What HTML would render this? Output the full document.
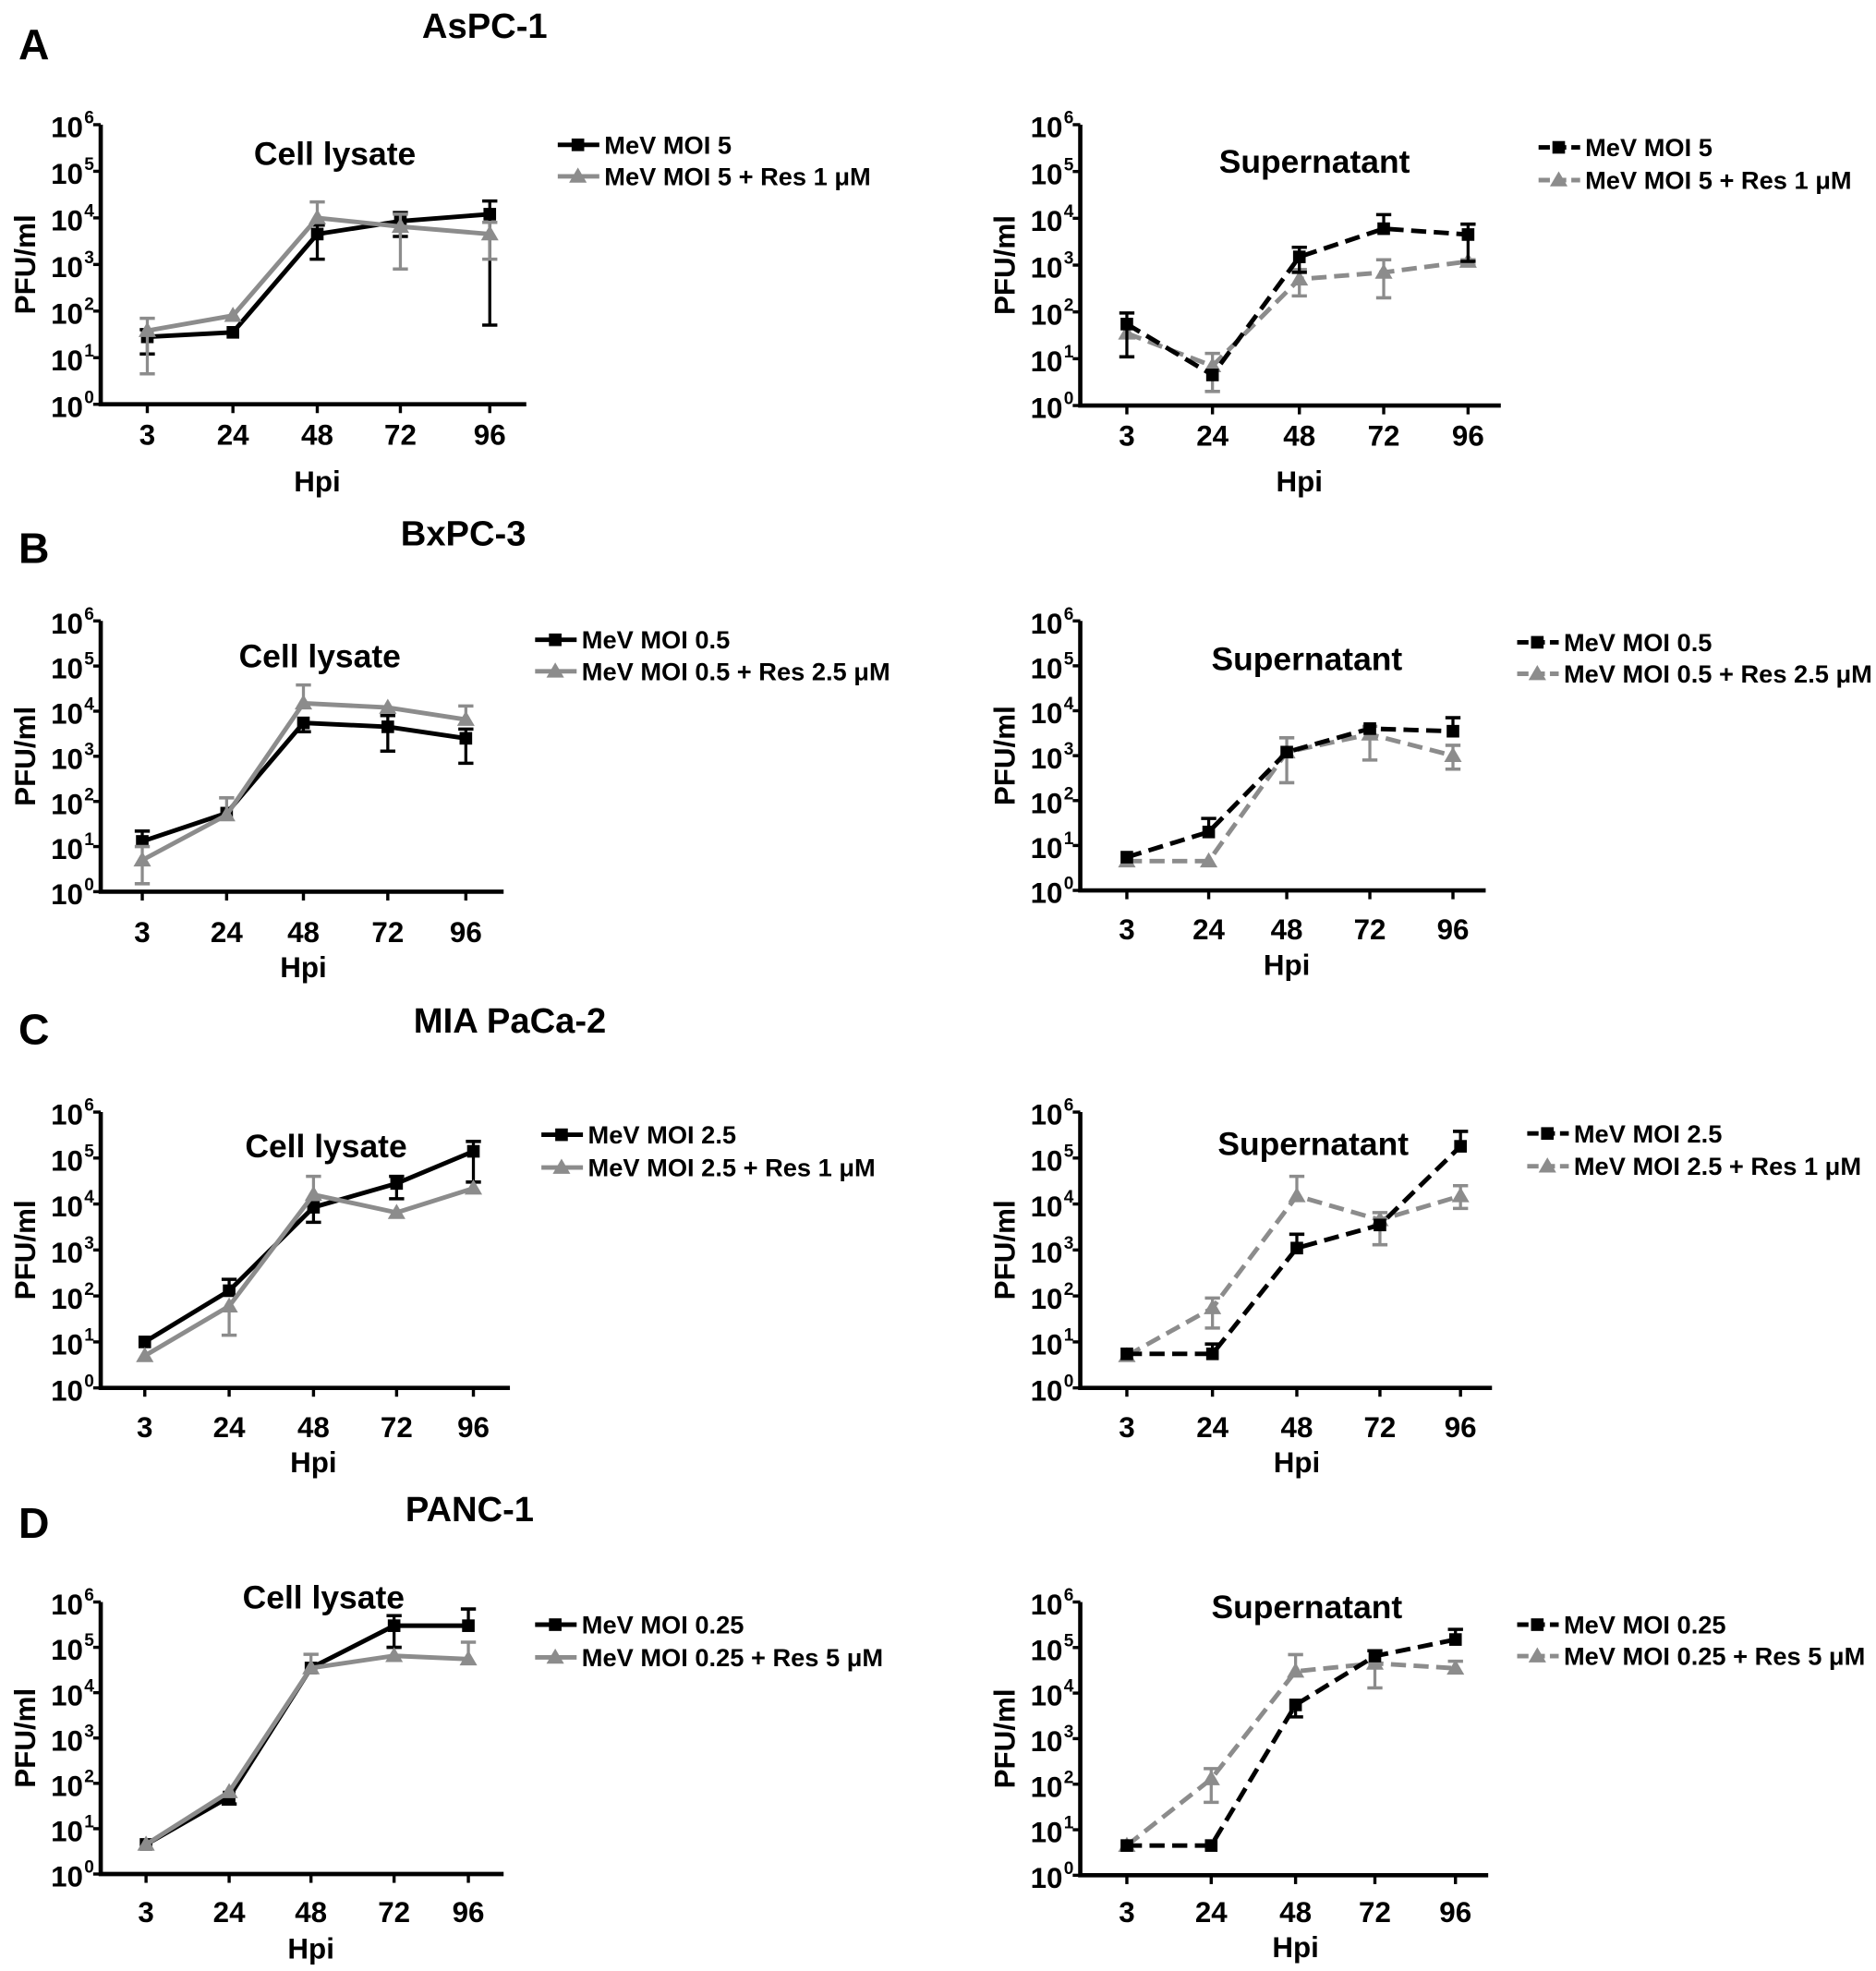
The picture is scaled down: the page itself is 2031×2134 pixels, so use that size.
<!DOCTYPE html>
<html><head><meta charset="utf-8"><style>
html,body{margin:0;padding:0;background:#fff;}
svg{display:block;}
text{font-family:"Liberation Sans",sans-serif;font-weight:bold;fill:#000;}
</style></head><body>
<svg id="fig" width="2031" height="2134" viewBox="0 0 1490 1565" preserveAspectRatio="none" xmlns="http://www.w3.org/2000/svg"></svg>
<script>
const hours = ["3","24","48","72","96"];
const yTickExp = [0,1,2,3,4,5,6];
// A left (AsPC-1 lysate)
const aLysBlack = [28,35,4500,8500,12000];
const aLysBlackLo = [12,35,1300,4000,50];
const aLysBlackHi = [40,35,7000,13000,23000];
const aLysGray = [38,80,10000,6500,4500];
const aLysGrayLo = [4.5,80,10000,800,1300];
const aLysGrayHi = [70,80,22000,12000,8000];
// A right
const aSupBlack = [55,4.5,1500,6000,4500];
const aSupBlackLo = [11,4.5,700,6000,1200];
const aSupBlackHi = [95,4.5,2400,12000,7500];
const aSupGray = [35,7,500,700,1200];
const aSupGrayLo = [35,2,220,200,1000];
const aSupGrayHi = [35,13,800,1300,1300];
// B left
const bLysBlack = [13,55,5500,4500,2500];
const bLysBlackLo = [13,55,3500,1300,700];
const bLysBlackHi = [22,55,5500,8000,4000];
const bLysGray = [5,50,15000,12000,6500];
const bLysGrayLo = [1.5,50,15000,12000,6500];
const bLysGrayHi = [10,120,38000,12000,13000];
// B right
const bSupBlack = [5.5,20,1200,4000,3500];
const bSupBlackLo = [5.5,20,1200,4000,3500];
const bSupBlackHi = [5.5,40,1200,4000,7000];
const bSupGray = [4.5,4.5,1200,3000,1000];
const bSupGrayLo = [4.5,4.5,250,800,500];
const bSupGrayHi = [4.5,4.5,2500,4500,1700];
// C left
const cLysBlack = [10,130,8500,28000,140000];
const cLysBlackLo = [10,130,4000,13000,30000];
const cLysBlackHi = [10,230,8500,40000,230000];
const cLysGray = [5,60,16000,6500,22000];
const cLysGrayLo = [5,14,16000,6500,22000];
const cLysGrayHi = [5,60,40000,6500,22000];
// C right
const cSupBlack = [5.5,5.5,1100,3500,180000];
const cSupBlackLo = [5.5,5.5,1100,3500,180000];
const cSupBlackHi = [5.5,9,2200,3500,380000];
const cSupGray = [5,55,15000,4500,15000];
const cSupGrayLo = [5,20,15000,1300,8000];
const cSupGrayHi = [5,90,40000,6500,25000];
// D left
const dLysBlack = [4.5,50,35000,300000,300000];
const dLysBlackLo = [4.5,35,35000,100000,300000];
const dLysBlackHi = [4.5,50,35000,500000,700000];
const dLysGray = [4.5,65,35000,65000,55000];
const dLysGrayLo = [4.5,65,35000,65000,55000];
const dLysGrayHi = [4.5,65,70000,65000,130000];
// D right
const dSupBlack = [4.5,4.5,5500,65000,150000];
const dSupBlackLo = [4.5,4.5,3000,65000,150000];
const dSupBlackHi = [4.5,4.5,5500,85000,250000];
const dSupGray = [4.5,130,30000,45000,35000];
const dSupGrayLo = [4.5,40,30000,13000,35000];
const dSupGrayHi = [4.5,220,70000,45000,50000];

const NS = "http://www.w3.org/2000/svg";
const svg = document.getElementById('fig');
function mk(tag, attrs, parent){
  const e = document.createElementNS(NS, tag);
  for (const k in attrs) e.setAttribute(k, attrs[k]);
  (parent||svg).appendChild(e);
  return e;
}
function txt(s, x, y, size, parent, anchor){
  const t = mk('text', {x:x, y:y, 'font-size':size, 'text-anchor':anchor||'middle'}, parent);
  t.textContent = s;
  return t;
}

const panels = [
 {id:'a-lysate', ax:80, top:99, bot:321, xend:418, ticks:[117,185,252,318,389], title:'Cell lysate', tx:266, ty:131, lx:443, ly:[115,140], l1:'MeV MOI 5', l2:'MeV MOI 5 + Res 1 μM', dash:false, tl:345, hy:390,
  b:aLysBlack,bl:aLysBlackLo,bh:aLysBlackHi,g:aLysGray,gl:aLysGrayLo,gh:aLysGrayHi},
 {id:'a-supernatant', ax:858, top:99, bot:322, xend:1192, ticks:[895,963,1032,1099,1166], title:'Supernatant', tx:1044, ty:137, lx:1222, ly:[117,143], l1:'MeV MOI 5', l2:'MeV MOI 5 + Res 1 μM', dash:true, tl:346, hy:390,
  b:aSupBlack,bl:aSupBlackLo,bh:aSupBlackHi,g:aSupGray,gl:aSupGrayLo,gh:aSupGrayHi},
 {id:'b-lysate', ax:80, top:493, bot:708, xend:400, ticks:[113,180,241,308,370], title:'Cell lysate', tx:254, ty:530, lx:425, ly:[508,533], l1:'MeV MOI 0.5', l2:'MeV MOI 0.5 + Res 2.5 μM', dash:false, tl:740, hy:776,
  b:bLysBlack,bl:bLysBlackLo,bh:bLysBlackHi,g:bLysGray,gl:bLysGrayLo,gh:bLysGrayHi},
 {id:'b-supernatant', ax:858, top:493, bot:707, xend:1180, ticks:[895,960,1022,1088,1154], title:'Supernatant', tx:1038, ty:532, lx:1205, ly:[510,535], l1:'MeV MOI 0.5', l2:'MeV MOI 0.5 + Res 2.5 μM', dash:true, tl:738, hy:774,
  b:bSupBlack,bl:bSupBlackLo,bh:bSupBlackHi,g:bSupGray,gl:bSupGrayLo,gh:bSupGrayHi},
 {id:'c-lysate', ax:80, top:883, bot:1102, xend:405, ticks:[115,182,249,315,376], title:'Cell lysate', tx:259, ty:919, lx:430, ly:[901,927], l1:'MeV MOI 2.5', l2:'MeV MOI 2.5 + Res 1 μM', dash:false, tl:1133, hy:1169,
  b:cLysBlack,bl:cLysBlackLo,bh:cLysBlackHi,g:cLysGray,gl:cLysGrayLo,gh:cLysGrayHi},
 {id:'c-supernatant', ax:858, top:883, bot:1102, xend:1185, ticks:[895,963,1030,1096,1160], title:'Supernatant', tx:1043, ty:917, lx:1213, ly:[900,926], l1:'MeV MOI 2.5', l2:'MeV MOI 2.5 + Res 1 μM', dash:true, tl:1133, hy:1169,
  b:cSupBlack,bl:cSupBlackLo,bh:cSupBlackHi,g:cSupGray,gl:cSupGrayLo,gh:cSupGrayHi},
 {id:'d-lysate', ax:80, top:1272, bot:1488, xend:400, ticks:[116,182,247,313,372], title:'Cell lysate', tx:257, ty:1277, lx:425, ly:[1290,1316], l1:'MeV MOI 0.25', l2:'MeV MOI 0.25 + Res 5 μM', dash:false, tl:1518, hy:1555,
  b:dLysBlack,bl:dLysBlackLo,bh:dLysBlackHi,g:dLysGray,gl:dLysGrayLo,gh:dLysGrayHi},
 {id:'d-supernatant', ax:858, top:1272, bot:1489, xend:1182, ticks:[895,962,1029,1092,1156], title:'Supernatant', tx:1038, ty:1285, lx:1205, ly:[1290,1315], l1:'MeV MOI 0.25', l2:'MeV MOI 0.25 + Res 5 μM', dash:true, tl:1518, hy:1554,
  b:dSupBlack,bl:dSupBlackLo,bh:dSupBlackHi,g:dSupGray,gl:dSupGrayLo,gh:dSupGrayHi}
];

const labels = [['A','AsPC-1',33,20],['B','BxPC-3',433,423],['C','MIA PaCa-2',815,810],['D','PANC-1',1207,1198]];
const labelX = [385,368,405,373];
labels.forEach((l,i)=>{
  const a = txt(l[0], 27, l[2]+14, 34, svg);
  
  
  const t = txt(l[1], labelX[i], l[3]+10, 28, svg);
  
  
});

function square(g, x, y, color){ mk('rect',{x:x-5,y:y-5,width:10,height:10,fill:color},g); }
function tri(g, x, y, color){ mk('polygon',{points:`${x},${y-7} ${x-7},${y+5} ${x+7},${y+5}`,fill:color},g); }

panels.forEach(p=>{
  const g = mk('g',{});
  
  
  const yS = v => p.bot - (Math.log10(v)/6)*(p.bot-p.top);
  const xS = i => p.ticks[i];
  const axes = mk('path',{d:`M${p.ax},${p.top} V${p.bot} H${p.xend}`,stroke:'#000','stroke-width':3.4,fill:'none'},g);
  
  
  yTickExp.forEach(e=>{
    const y = p.bot - (e/6)*(p.bot-p.top);
    mk('line',{x1:p.ax-6,x2:p.ax,y1:y,y2:y,stroke:'#000','stroke-width':2.5},g);
    const t = mk('text',{x:p.ax-14,y:y+10,'font-size':23,'text-anchor':'end'},g);
    t.textContent='10';
    
    
    const s = mk('text',{x:p.ax-13,y:y-1,'font-size':14,'text-anchor':'start'},g);
    s.textContent=String(e);
  });
  hours.forEach((h,i)=>{
    mk('line',{x1:xS(i),x2:xS(i),y1:p.bot,y2:p.bot+7,stroke:'#000','stroke-width':2.5},g);
    const t = txt(h, xS(i), p.tl+8, 23, g);
    
    
  });
  const hpi = txt('Hpi', xS(2), p.hy, 23, g);
  
  
  const yl = txt('PFU/ml', 0, 0, 23, g);
  yl.setAttribute('transform',`translate(${p.ax-52},${(p.top+p.bot)/2}) rotate(-90)`);
  
  
  const tt = txt(p.title, p.tx, p.ty, 26, g);
  
  

  const series = [
    {v:p.g, lo:p.gl, hi:p.gh, color:'#8c8c8c', marker:tri, name:'res-series'},
    {v:p.b, lo:p.bl, hi:p.bh, color:'#000', marker:square, name:'mev-series'}
  ];
  const order = p.dash ? series : [series[1], series[0]];
  order.forEach(s=>{
    const sg = mk('g',{},g);
    
    
    s.v.forEach((v,i)=>{
      const x = xS(i);
      if (s.hi[i] > v){
        mk('line',{x1:x,x2:x,y1:yS(v),y2:yS(s.hi[i]),stroke:s.color,'stroke-width':2.4},sg);
        mk('line',{x1:x-6,x2:x+6,y1:yS(s.hi[i]),y2:yS(s.hi[i]),stroke:s.color,'stroke-width':2.6},sg);
      }
      if (s.lo[i] < v){
        mk('line',{x1:x,x2:x,y1:yS(v),y2:yS(s.lo[i]),stroke:s.color,'stroke-width':2.4},sg);
        mk('line',{x1:x-6,x2:x+6,y1:yS(s.lo[i]),y2:yS(s.lo[i]),stroke:s.color,'stroke-width':2.6},sg);
      }
    });
    const pts = s.v.map((v,i)=>`${xS(i)},${yS(v)}`).join(' ');
    const line = mk('polyline',{points:pts,fill:'none',stroke:s.color,'stroke-width':3.6},sg);
    if (p.dash) line.setAttribute('stroke-dasharray','12,6');
    s.v.forEach((v,i)=>{ s.marker(sg, xS(i), yS(v), s.color); });
  });
  const lg = mk('g',{},g);
  
  
  [[p.l1,'#000',square],[p.l2,'#8c8c8c',tri]].forEach((e,k)=>{
    const y = p.ly[k];
    const ln = mk('line',{x1:p.lx,x2:p.lx+33,y1:y,y2:y,stroke:e[1],'stroke-width':3.6},lg);
    if (p.dash) ln.setAttribute('stroke-dasharray','9,4');
    e[2](lg, p.lx+16, y, e[1]);
    const t = txt(e[0], p.lx+37, y+7, 20, lg, 'start');
    
    
  });
});
</script>
</body></html>
